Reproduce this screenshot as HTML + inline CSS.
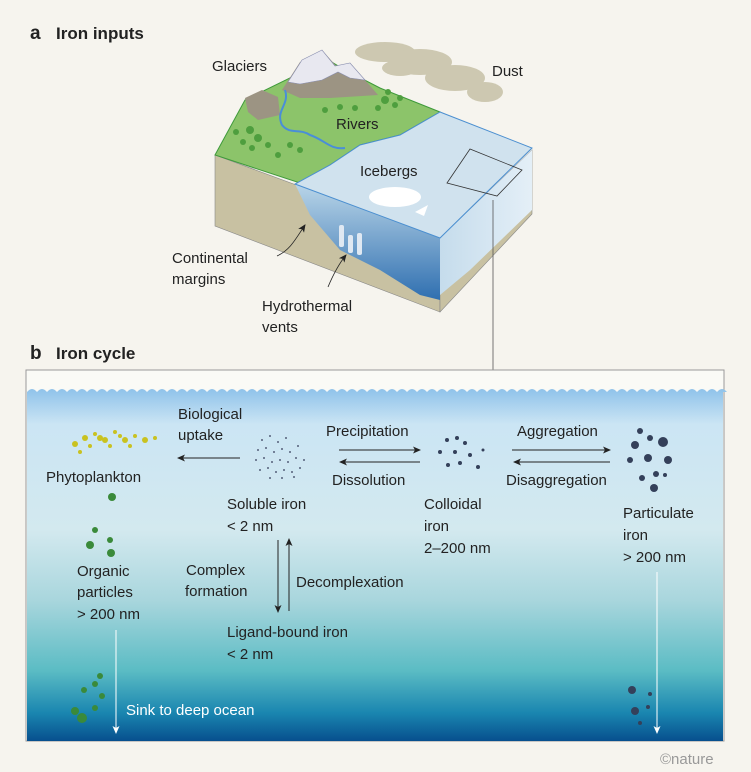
<!DOCTYPE html>
<html><head><meta charset="utf-8"><style>
body{margin:0;background:#f6f4ee;}
svg{display:block;font-family:"Liberation Sans",sans-serif;}
</style></head><body>
<svg width="751" height="772" viewBox="0 0 751 772" xmlns="http://www.w3.org/2000/svg">
<defs>
<linearGradient id="sea" x1="0" y1="0" x2="0" y2="1">
<stop offset="0" stop-color="#8fc2ea"/><stop offset="0.1" stop-color="#cbe5f4"/>
<stop offset="0.4" stop-color="#d3e9ef"/><stop offset="0.6" stop-color="#a9d6dd"/>
<stop offset="0.8" stop-color="#5bbcc4"/><stop offset="0.92" stop-color="#1a86b0"/>
<stop offset="1" stop-color="#074f8e"/></linearGradient>
<linearGradient id="wf" x1="0" y1="0" x2="0" y2="1">
<stop offset="0" stop-color="#b9d5e8"/><stop offset="1" stop-color="#2f6fb0"/></linearGradient>
<linearGradient id="wr" x1="0" y1="0" x2="1" y2="0">
<stop offset="0" stop-color="#c5dcec"/><stop offset="1" stop-color="#e4eff7"/></linearGradient>
<marker id="ah" markerWidth="8" markerHeight="8" refX="7" refY="4" orient="auto" markerUnits="userSpaceOnUse"><path d="M0,0.5 L8,4 L0,7.5 L2,4z" fill="#222"/></marker>
<marker id="aw" markerWidth="8" markerHeight="8" refX="7" refY="4" orient="auto" markerUnits="userSpaceOnUse"><path d="M0,0.5 L8,4 L0,7.5 L2,4z" fill="#fff"/></marker>
</defs>
<text x="30" y="39" font-size="19" font-weight="bold" fill="#222">a</text>
<text x="56" y="39" font-size="17" font-weight="bold" fill="#222">Iron inputs</text>
<!-- dust -->
<g fill="#c9c4ab" opacity="0.9">
<ellipse cx="385" cy="52" rx="30" ry="10"/><ellipse cx="420" cy="62" rx="32" ry="13"/><ellipse cx="455" cy="78" rx="30" ry="13"/><ellipse cx="485" cy="92" rx="18" ry="10"/><ellipse cx="400" cy="68" rx="18" ry="8"/></g>
<!-- block sides -->
<polygon points="215,155 215,226 440,312 440,238" fill="#c8c1a2" stroke="#888" stroke-width="0.6"/>
<polygon points="440,238 532,150 532,214 440,312" fill="#c8c1a2" stroke="#888" stroke-width="0.6"/>
<polygon points="295,184 440,238 440,300 420,295 380,270 340,250 310,215" fill="url(#wf)"/>
<polygon points="440,238 532,150 532,210 470,270 440,295" fill="url(#wr)"/>
<!-- land top -->
<polygon points="215,155 245,100 290,78 320,55 345,70 380,88 440,112 400,135 360,145 330,165 300,183" fill="#8cc46a" stroke="#3e9a3a" stroke-width="1"/>
<polygon points="440,112 532,148 440,238 295,184 330,165 360,145 400,135" fill="#d0e2ee" stroke="#4b8fd0" stroke-width="1"/>
<!-- mountains -->
<polygon points="282,90 300,62 322,50 338,68 352,65 372,88 378,95 330,98 300,98" fill="#9c9483"/>
<polygon points="288,82 302,60 322,50 335,66 350,63 365,80 350,78 338,72 322,80 300,84" fill="#e8e8f0" stroke="#8a8fb0" stroke-width="0.6"/>
<polygon points="245,98 262,90 278,97 280,115 258,120 248,112" fill="#9c9483"/>
<path d="M285,90 C290,105 275,110 282,125 C290,135 300,128 310,135 C325,140 330,150 345,148" stroke="#4a8ed8" stroke-width="2" fill="none"/>
<g fill="#4e9e3e"><circle cx="250" cy="130" r="4"/><circle cx="258" cy="138" r="4"/><circle cx="243" cy="142" r="3"/><circle cx="268" cy="145" r="3"/><circle cx="236" cy="132" r="3"/><circle cx="252" cy="148" r="3"/><circle cx="385" cy="100" r="4"/><circle cx="395" cy="105" r="3"/><circle cx="378" cy="108" r="3"/><circle cx="388" cy="92" r="3"/><circle cx="400" cy="98" r="3"/><circle cx="325" cy="110" r="3"/><circle cx="340" cy="107" r="3"/><circle cx="355" cy="108" r="3"/><circle cx="300" cy="150" r="3"/><circle cx="278" cy="155" r="3"/><circle cx="290" cy="145" r="3"/></g>
<ellipse cx="395" cy="197" rx="26" ry="10" fill="#fff"/>
<path d="M415,212 L428,205 L424,216z" fill="#fff"/>
<g fill="#dfe8f2"><rect x="339" y="225" width="5" height="22" rx="2"/><rect x="348" y="235" width="5" height="18" rx="2"/><rect x="357" y="233" width="5" height="22" rx="2"/></g>
<polygon points="447,183 470,149 522,170 497,196" fill="none" stroke="#333" stroke-width="0.8"/>
<line x1="493" y1="200" x2="493" y2="370" stroke="#555" stroke-width="0.8"/>
<text x="212" y="71" font-size="15" fill="#222">Glaciers</text>
<text x="492" y="76" font-size="15" fill="#222">Dust</text>
<text x="336" y="129" font-size="15" fill="#222">Rivers</text>
<text x="360" y="176" font-size="15" fill="#222">Icebergs</text>
<text x="172" y="263" font-size="15" fill="#222">Continental</text>
<text x="172" y="284" font-size="15" fill="#222">margins</text>
<text x="262" y="311" font-size="15" fill="#222">Hydrothermal</text>
<text x="262" y="332" font-size="15" fill="#222">vents</text>
<path d="M277,256 C290,250 295,240 305,225" stroke="#222" fill="none" stroke-width="0.8" marker-end="url(#ah)"/>
<path d="M328,287 C333,275 338,265 346,255" stroke="#222" fill="none" stroke-width="0.8" marker-end="url(#ah)"/>
<text x="30" y="359" font-size="19" font-weight="bold" fill="#222">b</text>
<text x="56" y="359" font-size="17" font-weight="bold" fill="#222">Iron cycle</text>
<rect x="26" y="370" width="698" height="371" fill="#fafaf6" stroke="#999" stroke-width="1"/>
<path d="M27,392 q5,-6 10,0 q5,-6 10,0 q5,-6 10,0 q5,-6 10,0 q5,-6 10,0 q5,-6 10,0 q5,-6 10,0 q5,-6 10,0 q5,-6 10,0 q5,-6 10,0 q5,-6 10,0 q5,-6 10,0 q5,-6 10,0 q5,-6 10,0 q5,-6 10,0 q5,-6 10,0 q5,-6 10,0 q5,-6 10,0 q5,-6 10,0 q5,-6 10,0 q5,-6 10,0 q5,-6 10,0 q5,-6 10,0 q5,-6 10,0 q5,-6 10,0 q5,-6 10,0 q5,-6 10,0 q5,-6 10,0 q5,-6 10,0 q5,-6 10,0 q5,-6 10,0 q5,-6 10,0 q5,-6 10,0 q5,-6 10,0 q5,-6 10,0 q5,-6 10,0 q5,-6 10,0 q5,-6 10,0 q5,-6 10,0 q5,-6 10,0 q5,-6 10,0 q5,-6 10,0 q5,-6 10,0 q5,-6 10,0 q5,-6 10,0 q5,-6 10,0 q5,-6 10,0 q5,-6 10,0 q5,-6 10,0 q5,-6 10,0 q5,-6 10,0 q5,-6 10,0 q5,-6 10,0 q5,-6 10,0 q5,-6 10,0 q5,-6 10,0 q5,-6 10,0 q5,-6 10,0 q5,-6 10,0 q5,-6 10,0 q5,-6 10,0 q5,-6 10,0 q5,-6 10,0 q5,-6 10,0 q5,-6 10,0 q5,-6 10,0 q5,-6 10,0 q5,-6 10,0 q5,-6 10,0 q5,-6 10,0 L723,392 L723,741 L27,741z" fill="url(#sea)"/>
<g font-size="15" fill="#222">
<text x="178" y="419">Biological</text><text x="178" y="440">uptake</text>
<text x="46" y="482">Phytoplankton</text>
<text x="326" y="436">Precipitation</text>
<text x="332" y="485">Dissolution</text>
<text x="517" y="436">Aggregation</text>
<text x="506" y="485">Disaggregation</text>
<text x="227" y="509">Soluble iron</text><text x="227" y="531">&lt; 2 nm</text>
<text x="424" y="509">Colloidal</text><text x="424" y="531">iron</text><text x="424" y="553">2–200 nm</text>
<text x="623" y="518">Particulate</text><text x="623" y="540">iron</text><text x="623" y="562">&gt; 200 nm</text>
<text x="77" y="576">Organic</text><text x="77" y="597">particles</text><text x="77" y="619">&gt; 200 nm</text>
<text x="186" y="575">Complex</text><text x="185" y="596">formation</text>
<text x="296" y="587">Decomplexation</text>
<text x="227" y="637">Ligand-bound iron</text><text x="227" y="659">&lt; 2 nm</text>
<text x="126" y="715" fill="#fff">Sink to deep ocean</text>
</g>
<g stroke="#222" stroke-width="1" marker-end="url(#ah)">
<line x1="240" y1="458" x2="178" y2="458"/>
<line x1="339" y1="450" x2="420" y2="450"/>
<line x1="420" y1="462" x2="340" y2="462"/>
<line x1="512" y1="450" x2="610" y2="450"/>
<line x1="610" y1="462" x2="514" y2="462"/>
<line x1="278" y1="540" x2="278" y2="612"/>
<line x1="289" y1="611" x2="289" y2="539"/>
</g>
<g stroke="#fff" stroke-width="1" marker-end="url(#aw)">
<line x1="116" y1="630" x2="116" y2="733"/>
<line x1="657" y1="572" x2="657" y2="733"/>
</g>
<g fill="#c9c220"><circle cx="75" cy="444" r="3"/><circle cx="85" cy="438" r="3"/><circle cx="95" cy="434" r="2"/><circle cx="105" cy="440" r="3"/><circle cx="115" cy="432" r="2"/><circle cx="125" cy="440" r="3"/><circle cx="135" cy="436" r="2"/><circle cx="145" cy="440" r="3"/><circle cx="155" cy="438" r="2"/><circle cx="90" cy="446" r="2"/><circle cx="110" cy="446" r="2"/><circle cx="130" cy="446" r="2"/><circle cx="120" cy="436" r="2"/><circle cx="100" cy="438" r="3"/><circle cx="80" cy="452" r="2"/></g>
<g fill="#3a8a3a"><circle cx="112" cy="497" r="4"/><circle cx="95" cy="530" r="3"/><circle cx="90" cy="545" r="4"/><circle cx="110" cy="540" r="3"/><circle cx="111" cy="553" r="4"/><circle cx="75" cy="711" r="4"/><circle cx="84" cy="690" r="3"/><circle cx="95" cy="684" r="3"/><circle cx="82" cy="718" r="5"/><circle cx="95" cy="708" r="3"/><circle cx="100" cy="676" r="3"/><circle cx="102" cy="696" r="3"/></g>
<g fill="#34405a"><circle cx="640" cy="431" r="3"/><circle cx="650" cy="438" r="3"/><circle cx="635" cy="445" r="4"/><circle cx="663" cy="442" r="5"/><circle cx="648" cy="458" r="4"/><circle cx="668" cy="460" r="4"/><circle cx="630" cy="460" r="3"/><circle cx="656" cy="474" r="3"/><circle cx="665" cy="475" r="2"/><circle cx="654" cy="488" r="4"/><circle cx="642" cy="478" r="3"/><circle cx="632" cy="690" r="4"/><circle cx="635" cy="711" r="4"/><circle cx="650" cy="694" r="2"/><circle cx="648" cy="707" r="2"/><circle cx="640" cy="723" r="2"/><circle cx="447" cy="440" r="2"/><circle cx="457" cy="438" r="2"/><circle cx="465" cy="443" r="2"/><circle cx="440" cy="452" r="2"/><circle cx="455" cy="452" r="2"/><circle cx="470" cy="455" r="2"/><circle cx="448" cy="465" r="2"/><circle cx="460" cy="463" r="2"/><circle cx="478" cy="467" r="2"/><circle cx="483" cy="450" r="1.5"/></g>
<g fill="#55607a"><circle cx="262" cy="440" r="1"/><circle cx="270" cy="436" r="1"/><circle cx="278" cy="442" r="1"/><circle cx="286" cy="438" r="1"/><circle cx="258" cy="450" r="1"/><circle cx="266" cy="448" r="1"/><circle cx="274" cy="452" r="1"/><circle cx="282" cy="449" r="1"/><circle cx="290" cy="452" r="1"/><circle cx="298" cy="446" r="1"/><circle cx="256" cy="460" r="1"/><circle cx="264" cy="458" r="1"/><circle cx="272" cy="462" r="1"/><circle cx="280" cy="460" r="1"/><circle cx="288" cy="462" r="1"/><circle cx="296" cy="458" r="1"/><circle cx="304" cy="460" r="1"/><circle cx="260" cy="470" r="1"/><circle cx="268" cy="468" r="1"/><circle cx="276" cy="472" r="1"/><circle cx="284" cy="470" r="1"/><circle cx="292" cy="472" r="1"/><circle cx="300" cy="468" r="1"/><circle cx="270" cy="478" r="1"/><circle cx="282" cy="478" r="1"/><circle cx="294" cy="477" r="1"/></g>
<text x="660" y="764" font-size="15" fill="#999">©nature</text>
</svg>
</body></html>
